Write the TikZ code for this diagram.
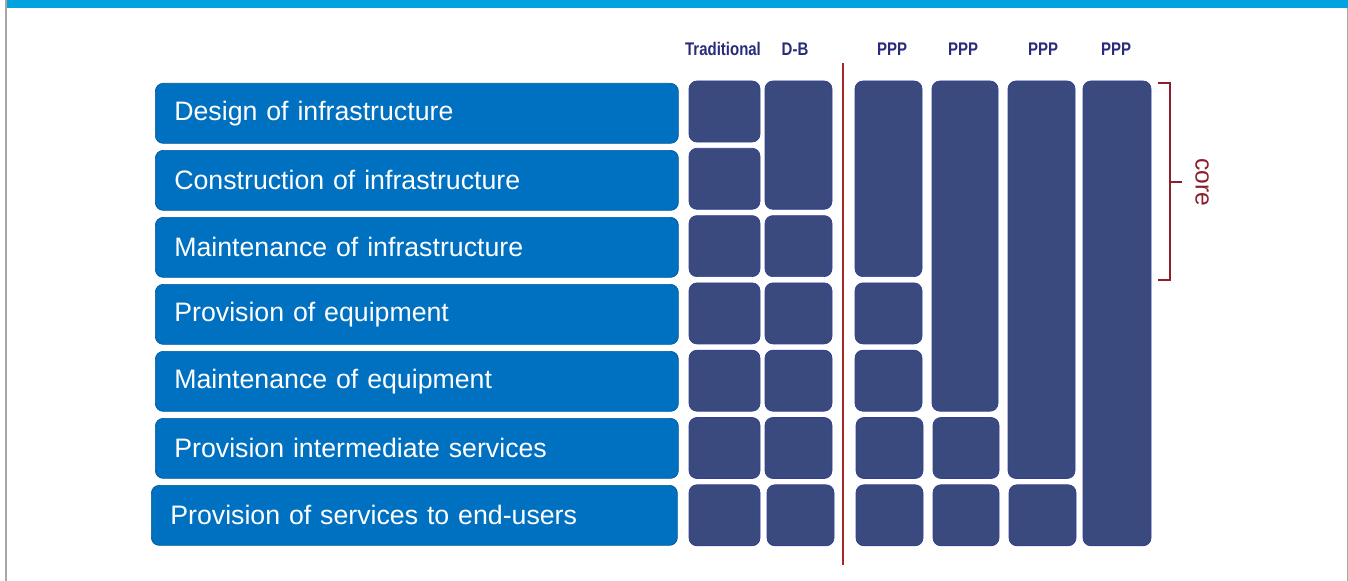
\documentclass[tikz,border=0pt]{standalone}
\usepackage{fontspec}
\setmainfont{Liberation Sans}
\newfontfamily\headfont[FakeStretch=0.82]{Liberation Sans}
\usetikzlibrary{positioning}
\definecolor{barblue}{RGB}{0,163,224}
\definecolor{taskblue}{RGB}{0,112,192}
\definecolor{cellnavy}{RGB}{59,74,126}
\definecolor{headnavy}{RGB}{40,44,122}
\definecolor{sepred}{RGB}{165,40,40}
\definecolor{corered}{RGB}{140,30,45}
\definecolor{framegray}{RGB}{168,168,160}
\tikzset{
		>=stealth
	}

\begin{document}
\begin{tikzpicture}[x=0.02cm, y=-0.02cm,
				task/.style={rectangle, rounded corners=4.5pt, fill=taskblue, draw=taskblue!80!black, thin,
					anchor=north west, minimum height=60*0.02cm, inner xsep=19*0.02cm, inner ysep=0pt,
					text width=485*0.02cm, align=left, text=white, font=\fontsize{15.2}{18}\selectfont},
				cell/.style={rectangle, rounded corners=4.5pt, fill=cellnavy, draw=cellnavy!85!blue, thin,
					anchor=north west, inner sep=0pt, outer sep=0pt},
				head/.style={text=headnavy, font=\headfont\bfseries\fontsize{10.4}{12}\selectfont, inner sep=0pt}]
	\useasboundingbox (0,0) rectangle (1348,581);
	% frame and top bar
	\fill[framegray] (5,0) rectangle (7,581);
	\fill[framegray] (1346.5,8) rectangle (1348,581);
	\fill[barblue] (7,0) rectangle (1348,8);
	% tasks
	\node[task] (design) at (155,83) {Design of infrastructure};
	\node[task] (construct) at (155,150) {Construction of infrastructure};
	\node[task] (maintinfra) at (155,217) {Maintenance of infrastructure};
	\node[task] (provequip) at (155,284) {Provision of equipment};
	\node[task] (maintequip) at (155,351) {Maintenance of equipment};
	\node[task] (provinter) at (155,418) {Provision intermediate services};
	\node[task, minimum width=526*0.02cm, text width=488*0.02cm] (provend) at (151,485) {Provision of services to end-users};
	% headers
	\node[head] (htrad) at (723,49) {Traditional};
	\node[head] (hdb) at (795,49) {D-B};
	\node[head] (hppp1) at (892,49) {PPP};
	\node[head] (hppp2) at (963,49) {PPP};
	\node[head] (hppp3) at (1043,49) {PPP};
	\node[head] (hppp4) at (1116,49) {PPP};
	% cells: name / left / right / first row / last row
	\foreach \n/\xa/\xb/\ra/\rb in {
			trad1/689/760/1/1, trad2/689/760/2/2, trad3/689/760/3/3, trad4/689/760/4/4,
			trad5/689/760/5/5, trad6/689/760/6/6, trad7/689/760/7/7,
			db1/765/832/1/2, db3/765/832/3/3, db4/765/832/4/4, db5/765/832/5/5,
			db6/765/832/6/6, db7/767/834/7/7,
			pa1/855/922/1/3, pa4/855/922/4/4, pa5/855/922/5/5, pa6/856/923/6/6, pa7/856/923/7/7,
			pb1/932/998/1/5, pb6/933/999/6/6, pb7/933/999/7/7,
			pc1/1008/1075/1/6, pc7/1009/1076/7/7,
			pd1/1083/1151/1/7}
		\node[cell, minimum width={(\xb-\xa)*0.02cm}, minimum height={(67.3*(\rb-\ra)+61)*0.02cm}]
			(\n) at (\xa,{81+67.3*(\ra-1)}) {};
	% separator
	\draw[sepred, line width=1.1pt] (843,63) -- (843,565);
	% core bracket
	\draw[corered, line width=0.9pt] (1158,83) -- (1170,83) -- (1170,280) -- (1158,280);
	\draw[corered, line width=0.9pt] (1170,182) -- (1182,182);
	\node[text=corered, rotate=-90, font=\fontsize{14}{16}\selectfont, inner sep=0pt] (core) at (1202,182) {core};
\end{tikzpicture}
\end{document}
